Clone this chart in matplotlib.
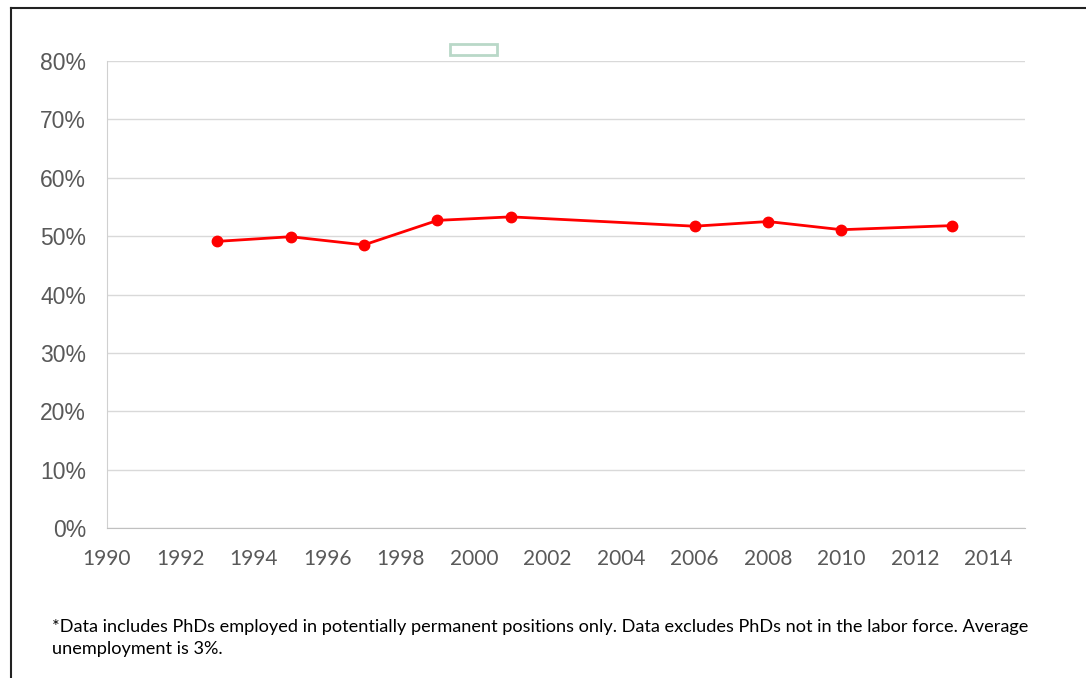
import matplotlib
matplotlib.use("Agg")
import matplotlib.pyplot as plt
from matplotlib.patches import Rectangle
from matplotlib.lines import Line2D

years = [1993, 1995, 1997, 1999, 2001, 2006, 2008, 2010, 2013]
values = [49.1, 49.9, 48.5, 52.7, 53.3, 51.7, 52.5, 51.1, 51.8]
xticks = list(range(1990, 2015, 2))
yticks = list(range(0, 81, 10))
footnote = ("*Data includes PhDs employed in potentially permanent positions only. Data excludes PhDs not in the labor force. Average\n"
            "unemployment is 3%.")

plt.rcParams['font.family'] = ['Lato', 'DejaVu Sans']

W, H = 1086, 678
fig = plt.figure(figsize=(W/100, H/100), dpi=100)
ax = fig.add_axes([107/W, 1-528/H, (1025-107)/W, (528-61)/H])

ax.plot(years, values, color='#ff0000', lw=2, marker='o', ms=7.5, zorder=3)
ax.set_xlim(1990, 2015)
ax.set_ylim(0, 80)
ax.set_xticks(xticks)
ax.set_xticklabels([str(t) for t in xticks])
ax.set_yticks(yticks)
ax.set_yticklabels([f"{t}%" for t in yticks], family=['Liberation Sans', 'DejaVu Sans'])
ax.grid(axis='y', color='#d9d9d9', lw=1)
ax.set_axisbelow(True)
for s in ['top', 'right']:
    ax.spines[s].set_visible(False)
ax.spines['left'].set_color('#d0d0d0')
ax.spines['bottom'].set_color('#c0c0c0')
ax.tick_params(length=0, colors='#595959')
ax.tick_params(axis='x', pad=15, labelsize=15)
ax.tick_params(axis='y', pad=15, labelsize=16.5)

fig.text(52/W, 1-638/H, footnote, fontsize=13.05, color='black', va='center', ha='left', linespacing=1.4)

# empty legend box
fig.patches.append(Rectangle((450/W, 1-55/H), 47/W, 11/H, transform=fig.transFigure,
                             fill=False, edgecolor='#b9d8c8', lw=2))
# outer frame lines
fig.lines.append(Line2D([11/W, 11/W], [0, 1-8/H], transform=fig.transFigure, color='#222222', lw=1.5))
fig.lines.append(Line2D([11/W, 1], [1-8/H, 1-8/H], transform=fig.transFigure, color='#222222', lw=1.5))

fig.savefig("out.png", dpi=100)
